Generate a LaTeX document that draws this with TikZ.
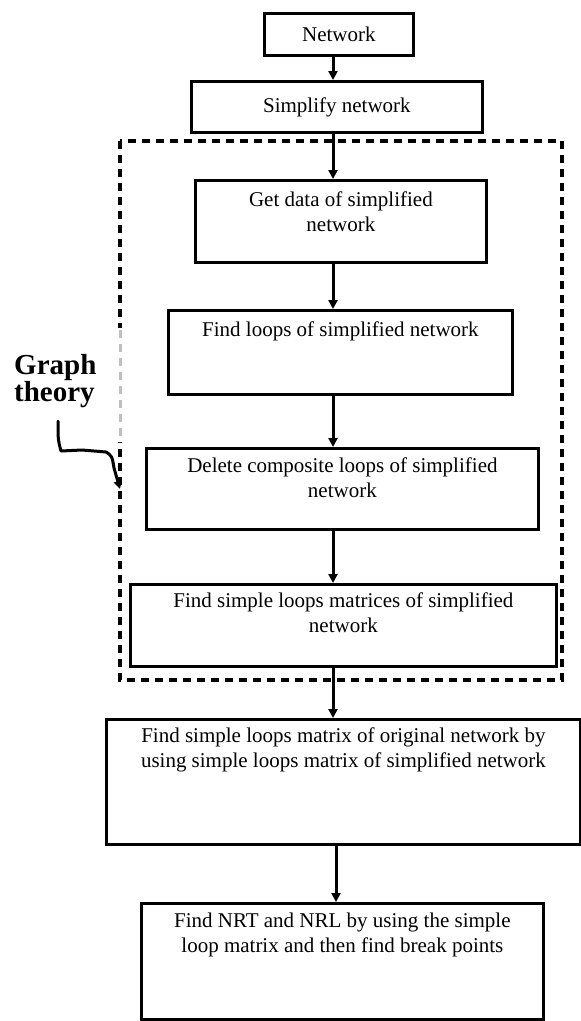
\documentclass[tikz,border=0pt]{standalone}
\usepackage{fontspec}
\setmainfont{Liberation Serif}
\usetikzlibrary{arrows.meta}
\begin{document}
\begin{tikzpicture}[x=1pt,y=-1pt,
  stepbox/.style={draw, line width=2.8pt, inner sep=0pt, anchor=north west},
  steptext/.style={font=\fontsize{21}{24.5}\selectfont, align=center, anchor=north, inner sep=0pt},
  flow/.style={line width=3pt, -{Triangle[length=9pt,width=9pt]}},
  group/.style={line width=4pt, dash pattern=on 8pt off 6pt},
  pointer/.style={line width=3pt, line cap=round, line join=round, -{Triangle[length=8pt,width=8pt]}}]
\useasboundingbox (0,0) rectangle (581,1021);

% column of the vertical connectors
\coordinate (ax) at (333,0);
\coordinate (bx) at (336,0);

% dashed frame around the graph-theory steps
\draw[group] (120,141) rectangle (562,680);
% lighter stretch of the frame's left side
\draw[white, line width=5pt] (120,328) -- (120,442);
\draw[gray!50, line width=3pt, dash pattern=on 8pt off 6pt] (120,330) -- (120,442);

% process steps
\node[stepbox, minimum width=149, minimum height=42] (net)  at (263,12)  {};
\node[stepbox, minimum width=291, minimum height=51] (simp) at (190,80)  {};
\node[stepbox, minimum width=291, minimum height=82] (gd)   at (194,179) {};
\node[stepbox, minimum width=344, minimum height=84] (fl)   at (167,309) {};
\node[stepbox, minimum width=392, minimum height=81] (dc)   at (145,447) {};
\node[stepbox, minimum width=426, minimum height=82] (sm)   at (129,583) {};
\node[stepbox, minimum width=474, minimum height=125] (orig) at (105,718) {};
\node[stepbox, minimum width=402, minimum height=116] (fin)  at (140,902) {};

% step texts
\node[steptext, anchor=center] at (net.center)  {Network};
\node[steptext, anchor=center] at (simp.center) {Simplify network};
\node[steptext] at ([yshift=-13]gd.north)   {Get data of simplified\\network};
\node[steptext] at ([yshift=-13]fl.north)   {Find loops of simplified network};
\node[steptext] at ([yshift=-11]dc.north)   {Delete composite loops of simplified\\network};
\node[steptext] at ([yshift=-10]sm.north)   {Find simple loops matrices of simplified\\network};
\node[steptext] at ([yshift=-10]orig.north) {Find simple loops matrix of original network by\\using simple loops matrix of simplified network};
\node[steptext] at ([yshift=-11]fin.north)  {Find NRT and NRL by using the simple\\loop matrix and then find break points};

% connectors
\draw[flow] (net.south -| ax)  -- (simp.north -| ax);
\draw[flow] (simp.south -| ax) -- (gd.north -| ax);
\draw[flow] (gd.south -| ax)   -- (fl.north -| ax);
\draw[flow] (fl.south -| ax)   -- (dc.north -| ax);
\draw[flow] (dc.south -| ax)   -- (sm.north -| ax);
\draw[flow] (sm.south -| ax)   -- (orig.north -| ax);
\draw[flow] (orig.south -| bx) -- (fin.north -| bx);

% label of the framed group with its pointer
\node[font=\bfseries\fontsize{29}{25}\selectfont, align=left, anchor=north west, inner sep=0pt] (gt) at (14,354) {Graph\\theory};
\coordinate (gstart) at (58,421);
\coordinate (gtip) at (120,489);
\draw[pointer] (gstart) .. controls (58,440) .. (61,451) -- (82,450) -- (106,452)
  .. controls (112,456) .. (114,468) -- (gtip);
\end{tikzpicture}
\end{document}
